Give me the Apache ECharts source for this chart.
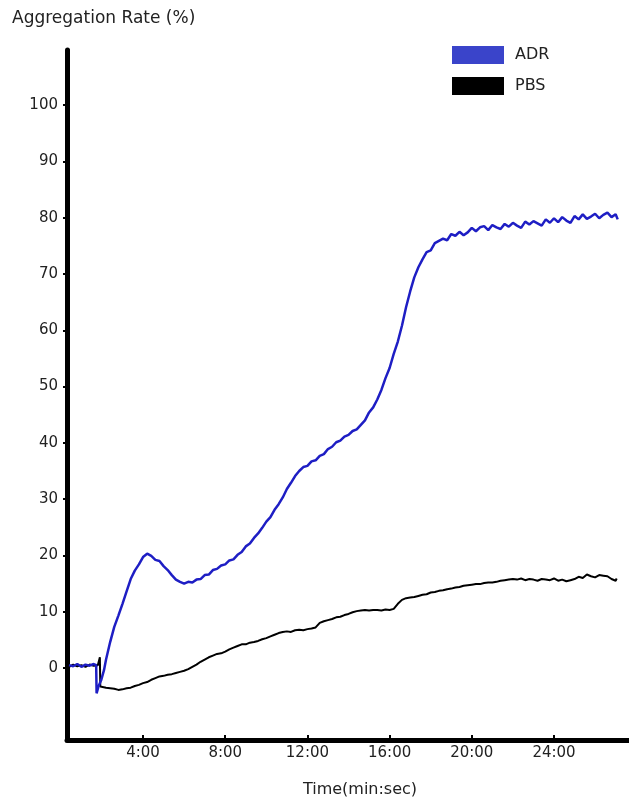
<!DOCTYPE html>
<html>
<head>
<meta charset="utf-8">
<title>Aggregation Rate</title>
<script src="https://cdn.jsdelivr.net/npm/echarts@6/dist/echarts.min.js"></script>
<style>
  html, body { margin: 0; padding: 0; background: #fff; }
  #chart { width: 629px; height: 797px; }
</style>
</head>
<body>
<div id="chart"></div>
<script>
// 时间(分钟) / 聚集率(%)
const adrData = [
  [0.4, 0.5], [0.6, 0.3], [0.8, 0.7], [1.0, 0.2], [1.2, 0.6], [1.4, 0.4], [1.6, 0.7], [1.72, 0.5],
  [1.74, -4.5], [1.84, -3.2], [1.96, -2.2], [2.1, -0.4], [2.2, 1.5], [2.4, 4.6], [2.6, 7.3], [2.8, 9.3],
  [3.0, 11.4], [3.2, 13.6], [3.4, 15.8], [3.6, 17.3], [3.8, 18.4], [4.0, 19.7], [4.2, 20.3], [4.4, 19.9],
  [4.6, 19.2], [4.8, 19.0], [5.0, 18.1], [5.2, 17.4], [5.4, 16.5], [5.6, 15.7], [5.8, 15.3], [6.0, 15.0],
  [6.2, 15.3], [6.4, 15.2], [6.6, 15.7], [6.8, 15.8], [7.0, 16.5], [7.2, 16.6], [7.4, 17.4], [7.6, 17.6],
  [7.8, 18.2], [8.0, 18.4], [8.2, 19.1], [8.4, 19.3], [8.6, 20.1], [8.8, 20.6], [9.0, 21.6], [9.2, 22.1],
  [9.4, 23.1], [9.6, 23.9], [9.8, 24.9], [10.0, 26.0], [10.2, 26.8], [10.4, 28.1], [10.6, 29.1], [10.8, 30.3],
  [11.0, 31.8], [11.2, 32.9], [11.4, 34.1], [11.6, 35.0], [11.8, 35.7], [12.0, 35.9], [12.2, 36.7], [12.4, 36.9],
  [12.6, 37.7], [12.8, 38.0], [13.0, 38.9], [13.2, 39.3], [13.4, 40.1], [13.6, 40.4], [13.8, 41.1], [14.0, 41.4],
  [14.2, 42.1], [14.4, 42.4], [14.6, 43.2], [14.8, 44.0], [15.0, 45.4], [15.2, 46.3], [15.4, 47.7], [15.6, 49.4],
  [15.8, 51.5], [16.0, 53.3], [16.2, 55.8], [16.4, 58.0], [16.6, 60.8], [16.8, 64.1], [17.0, 66.9], [17.2, 69.4],
  [17.4, 71.2], [17.6, 72.6], [17.8, 73.9], [18.0, 74.2], [18.2, 75.5], [18.4, 75.9], [18.6, 76.3], [18.8, 76.0],
  [19.0, 77.1], [19.2, 76.8], [19.4, 77.5], [19.6, 76.9], [19.8, 77.4], [20.0, 78.2], [20.2, 77.6], [20.4, 78.3],
  [20.6, 78.5], [20.8, 77.8], [21.0, 78.7], [21.2, 78.3], [21.4, 78.0], [21.6, 78.9], [21.8, 78.4], [22.0, 79.1],
  [22.2, 78.6], [22.4, 78.2], [22.6, 79.3], [22.8, 78.8], [23.0, 79.4], [23.2, 79.0], [23.4, 78.6], [23.6, 79.7],
  [23.8, 79.1], [24.0, 79.9], [24.2, 79.2], [24.4, 80.1], [24.6, 79.5], [24.8, 79.1], [25.0, 80.3], [25.2, 79.7],
  [25.4, 80.6], [25.6, 79.8], [25.8, 80.2], [26.0, 80.7], [26.2, 79.9], [26.4, 80.5], [26.6, 80.9], [26.8, 80.1],
  [27.0, 80.6], [27.1, 79.7]
];

const pbsData = [
  [0.4, 0.2], [0.6, 0.6], [0.8, 0.3], [1.0, 0.5], [1.2, 0.2], [1.4, 0.6], [1.6, 0.4], [1.8, 0.5],
  [1.9, 1.9], [1.92, -3.3], [2.0, -3.2], [2.2, -3.5], [2.4, -3.6], [2.6, -3.7], [2.8, -3.9], [3.0, -3.8],
  [3.2, -3.6], [3.4, -3.5], [3.6, -3.2], [3.8, -3.0], [4.0, -2.7], [4.2, -2.5], [4.4, -2.1], [4.6, -1.8],
  [4.8, -1.5], [5.0, -1.4], [5.2, -1.2], [5.4, -1.1], [5.6, -0.9], [5.8, -0.7], [6.0, -0.5], [6.2, -0.2],
  [6.4, 0.2], [6.6, 0.6], [6.8, 1.1], [7.0, 1.5], [7.2, 1.9], [7.4, 2.2], [7.6, 2.5], [7.8, 2.6],
  [8.0, 2.9], [8.2, 3.3], [8.4, 3.6], [8.6, 3.9], [8.8, 4.2], [9.0, 4.2], [9.2, 4.5], [9.4, 4.6],
  [9.6, 4.8], [9.8, 5.1], [10.0, 5.3], [10.2, 5.6], [10.4, 5.9], [10.6, 6.2], [10.8, 6.4], [11.0, 6.5],
  [11.2, 6.4], [11.4, 6.7], [11.6, 6.8], [11.8, 6.7], [12.0, 6.9], [12.2, 7.0], [12.4, 7.2], [12.6, 8.0],
  [12.8, 8.3], [13.0, 8.5], [13.2, 8.7], [13.4, 9.0], [13.6, 9.1], [13.8, 9.4], [14.0, 9.6], [14.2, 9.9],
  [14.4, 10.1], [14.6, 10.2], [14.8, 10.3], [15.0, 10.2], [15.2, 10.3], [15.4, 10.3], [15.6, 10.2], [15.8, 10.4],
  [16.0, 10.3], [16.2, 10.5], [16.4, 11.4], [16.6, 12.1], [16.8, 12.4], [17.0, 12.5], [17.2, 12.6], [17.4, 12.8],
  [17.6, 13.0], [17.8, 13.1], [18.0, 13.4], [18.2, 13.5], [18.4, 13.7], [18.6, 13.8], [18.8, 14.0], [19.0, 14.1],
  [19.2, 14.3], [19.4, 14.4], [19.6, 14.6], [19.8, 14.7], [20.0, 14.8], [20.2, 14.9], [20.4, 14.9], [20.6, 15.1],
  [20.8, 15.2], [21.0, 15.2], [21.2, 15.3], [21.4, 15.5], [21.6, 15.6], [21.8, 15.7], [22.0, 15.8], [22.2, 15.7],
  [22.4, 15.9], [22.6, 15.6], [22.8, 15.8], [23.0, 15.7], [23.2, 15.5], [23.4, 15.8], [23.6, 15.7], [23.8, 15.6],
  [24.0, 15.9], [24.2, 15.5], [24.4, 15.7], [24.6, 15.4], [24.8, 15.6], [25.0, 15.8], [25.2, 16.2], [25.4, 16.0],
  [25.6, 16.6], [25.8, 16.3], [26.0, 16.1], [26.2, 16.5], [26.4, 16.4], [26.6, 16.3], [26.8, 15.8], [27.0, 15.5],
  [27.05, 15.9]
];

const yTicks = [0, 10, 20, 30, 40, 50, 60, 70, 80, 90, 100];
const xTicks = [4, 8, 12, 16, 20, 24];

const font = "'DejaVu Sans', sans-serif";

const options = {
  animation: false,
  title: {
    text: "Aggregation Rate (%)",
    left: 7,
    top: 5,
    textStyle: {
      fontFamily: font,
      fontSize: 17,
      fontWeight: "normal",
      color: "#222",
    },
  },
  legend: {
    orient: "vertical",
    left: 447,
    top: 41,
    itemWidth: 52,
    itemHeight: 18,
    itemGap: 13,
    icon: "rect",
    textStyle: {
      fontFamily: font,
      fontSize: 16,
      color: "#222",
      padding: [0, 0, 0, 6],
    },
    data: ["ADR", "PBS"],
  },
  grid: {
    left: 67,
    right: 0,
    top: 50,
    bottom: 57,
    outerBoundsMode: "none",
  },
  xAxis: {
    type: "value",
    min: 0.3,
    max: 27.65,
    name: "Time(min:sec)",
    nameLocation: "middle",
    nameGap: 42,
    nameTextStyle: {
      fontFamily: font,
      fontSize: 16,
      color: "#222",
      padding: [0, 0, 0, 24],
    },
    axisLine: {
      onZero: false,
      lineStyle: { color: "#000", width: 5 },
    },
    axisTick: {
      show: true,
      inside: true,
      length: 5,
      customValues: xTicks,
      lineStyle: { color: "#000", width: 2 },
    },
    axisLabel: {
      customValues: xTicks,
      formatter: (v) => v + ":00",
      fontFamily: font,
      fontSize: 15,
      color: "#222",
      margin: 6,
    },
    splitLine: { show: false },
  },
  yAxis: {
    type: "value",
    min: -12.8,
    max: 109.8,
    axisLine: {
      show: true,
      onZero: false,
      lineStyle: { color: "#000", width: 5 },
    },
    axisTick: {
      show: true,
      length: 4,
      customValues: yTicks,
      lineStyle: { color: "#000", width: 2 },
    },
    axisLabel: {
      customValues: yTicks,
      fontFamily: font,
      fontSize: 15,
      color: "#222",
      margin: 9,
    },
    splitLine: { show: false },
  },
  series: [
    {
      name: "ADR",
      type: "line",
      data: adrData,
      symbol: "none",
      itemStyle: { color: "#3A44CA" },
      lineStyle: { color: "#1E1EC4", width: 2.5 },
      z: 3,
    },
    {
      name: "PBS",
      type: "line",
      data: pbsData,
      symbol: "none",
      itemStyle: { color: "#000" },
      lineStyle: { color: "#000", width: 2 },
      z: 2,
    },
  ],
};

const chart = echarts.init(document.getElementById("chart"));
chart.setOption(options);
window.addEventListener("resize", () => chart.resize());
</script>
</body>
</html>
